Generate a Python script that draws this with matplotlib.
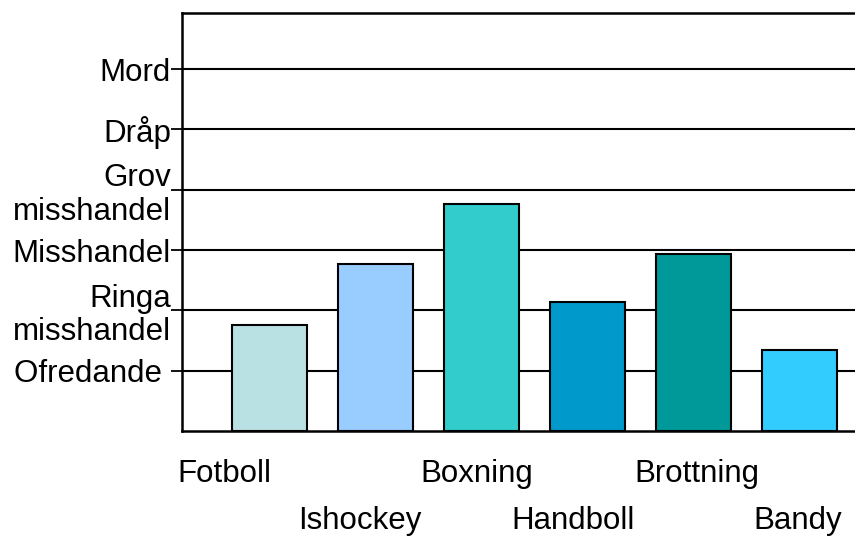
import matplotlib
matplotlib.use("Agg")
import matplotlib.pyplot as plt

sports = ["Fotboll", "Ishockey", "Boxning", "Handboll", "Brottning", "Bandy"]
values = [1.76, 2.77, 3.77, 2.14, 2.94, 1.35]
colors = ["#B9E0E3", "#99CCFF", "#33CCCC", "#0099CC", "#009999", "#33CCFF"]
level_values = [1, 2, 3, 4, 5, 6]
level_labels = ["Ofredande ", "Ringa\nmisshandel", "Misshandel", "Grov\nmisshandel", "Dråp", "Mord"]

# layout: per-label horizontal shift (category units) and row (0 top, 1 bottom)
label_shift = [-0.43, -0.15, -0.05, -0.14, 0.03, -0.02]
label_row = [0, 1, 0, 1, 0, 1]

plt.rcParams['font.family'] = ['Liberation Sans', 'DejaVu Sans']

fig = plt.figure(figsize=(8.55, 5.38), dpi=100)
ax = fig.add_axes([182/855, 1-431/538, 1-182/855, (431-13)/538])

x = list(range(len(sports)))
ax.bar(x, values, width=0.71, color=colors, edgecolor="black", linewidth=1.5, zorder=3)

ax.set_xlim(-0.825, 5.52)
ax.set_ylim(0, 6.93)
ax.set_yticks(level_values)
ax.set_yticklabels(level_labels, fontsize=22.5, linespacing=1.15)
ax.tick_params(axis='y', length=8, width=1.3, pad=0, color='black')
ax.set_xticks([])
ax.grid(axis='y', color='black', linewidth=1.5, zorder=0)
ax.set_axisbelow(True)

for s in ['left', 'bottom', 'top']:
    ax.spines[s].set_linewidth(1.8)
ax.spines['right'].set_visible(False)

for i, name in enumerate(sports):
    ypix = -43 if label_row[i] == 0 else -90
    ax.annotate(name, xy=(i + label_shift[i], 0), xycoords='data',
                xytext=(0, ypix), textcoords='offset pixels',
                ha='center', va='center', fontsize=22.5, annotation_clip=False)

fig.savefig("out.png", dpi=100)
